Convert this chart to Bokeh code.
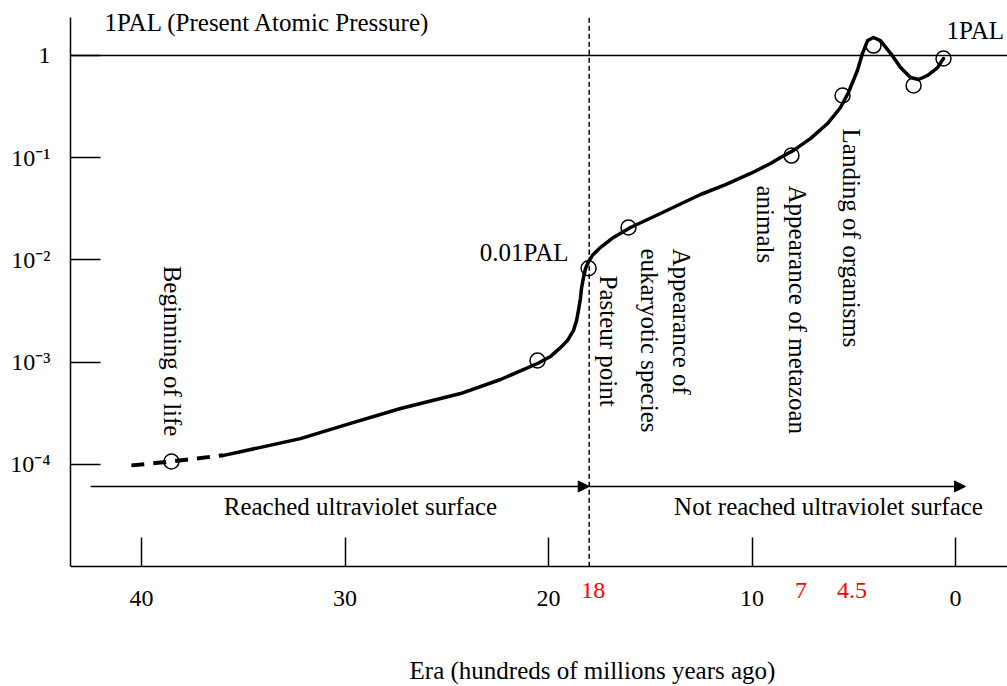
from math import pi
from bokeh.plotting import figure
from bokeh.models import Range1d, FixedTicker, Span, Label, Arrow, NormalHead
from bokeh.embed import file_html
from bokeh.resources import INLINE

FONT = "Liberation Serif"

# ---- data (era in hundreds of millions of years ago, O2 level in PAL) ----
early_x = [40.5, 38.5, 36.0]
early_y = [9.8e-5, 1.07e-4, 1.23e-4]

curve_x = [36.02, 34.15, 32.19, 29.73, 27.27, 24.32, 22.36, 20.54, 19.90, 19.41,
           19.07, 18.77, 18.62, 18.53, 18.43, 18.38, 18.28, 18.18, 18.03, 17.84,
           17.44, 16.81, 15.97, 14.50, 12.53, 11.30, 10.07, 9.09, 8.60, 7.96,
           7.13, 6.29, 5.65, 5.26, 4.82, 4.57, 4.32, 4.03, 3.69, 3.19,
           2.70, 2.21, 1.82, 1.38, 0.88, 0.59]
curve_y = [1.22e-4, 1.47e-4, 1.79e-4, 2.52e-4, 3.53e-4, 4.94e-4, 6.78e-4, 9.72e-4, 1.14e-3, 1.39e-3,
           1.63e-3, 2.05e-3, 2.56e-3, 3.21e-3, 4.20e-3, 5.26e-3, 6.75e-3, 8.26e-3, 9.66e-3, 0.0111,
           0.0133, 0.0166, 0.0208, 0.0285, 0.0437, 0.0547, 0.0702, 0.0879, 0.1005, 0.118,
           0.154, 0.216, 0.310, 0.435, 0.713, 1.05, 1.40, 1.50, 1.40, 1.05,
           0.763, 0.610, 0.582, 0.637, 0.763, 0.935]

marker_x = [38.53, 20.54, 18.03, 16.07, 8.06, 5.55, 4.03, 2.06, 0.59]
marker_y = [1.07e-4, 1.04e-3, 8.3e-3, 0.0208, 0.105, 0.406, 1.25, 0.509, 0.935]

x_ticks = [40, 30, 20, 10, 0]
y_ticks = [1e-4, 1e-3, 1e-2, 1e-1, 1]
y_tick_labels = {1e-4: "10\u207b\u2074", 1e-3: "10\u207b\u00b3", 1e-2: "10\u207b\u00b2",
                 1e-1: "10\u207b\u00b9", 1: "1"}
red_ticks = [18, 7, 4.5]
red_tick_labels = ["18", "7", "4.5"]
pasteur_era = 18
axis_min, axis_max = 1e-5, 2.35     # extent of the drawn y axis
uv_level = 6.1e-5                   # height of the UV arrows

p = figure(width=1007, height=686, x_range=Range1d(43.49, -2.555),
           y_range=Range1d(6.74e-7, 3.45),
           y_axis_type="log", output_backend="svg", toolbar_location=None,
           min_border_left=70, min_border_right=0, min_border_top=0, min_border_bottom=0)
p.outline_line_color = None
p.grid.visible = False
p.background_fill_color = "white"

# x axis (sits at the bottom of the drawn y axis)
xa = p.xaxis[0]
xa.fixed_location = axis_min
xa.ticker = FixedTicker(ticks=x_ticks)
xa.major_tick_in = 29
xa.major_tick_out = 0
xa.minor_tick_line_color = None
xa.axis_line_width = 1.5
xa.major_tick_line_width = 1.5
xa.axis_line_color = "black"
xa.major_tick_line_color = "black"
xa.major_label_text_font = FONT
xa.major_label_text_font_size = "24px"
xa.major_label_text_color = "black"
xa.major_label_standoff = 24

# y axis
ya = p.yaxis[0]
ya.bounds = (axis_min, axis_max)
ya.ticker = FixedTicker(ticks=y_ticks)
ya.major_label_overrides = y_tick_labels
ya.major_tick_in = 30
ya.major_tick_out = 0
ya.minor_tick_line_color = None
ya.axis_line_width = 1.5
ya.major_tick_line_width = 1.5
ya.axis_line_color = "black"
ya.major_tick_line_color = "black"
ya.major_label_text_font = FONT
ya.major_label_text_font_size = "24px"
ya.major_label_text_color = "black"
ya.major_label_standoff = 20

# reference lines
p.add_layout(Span(location=1, dimension="width", line_color="black", line_width=1.5))
p.segment(x0=[pasteur_era], y0=[axis_min], x1=[pasteur_era], y1=[axis_max],
          line_color="black", line_width=1.5, line_dash="5 3")

# curve
p.line(early_x, early_y, line_color="black", line_width=4, line_dash="13 9")
p.line(curve_x, curve_y, line_color="black", line_width=3.5, line_join="round", line_cap="round")
p.scatter(marker_x, marker_y, marker="circle", size=15, fill_alpha=0,
          line_color="black", line_width=1.5)

# arrows
p.add_layout(Arrow(end=NormalHead(size=11, fill_color="black", line_color="black"),
                   x_start=42.5, y_start=uv_level, x_end=pasteur_era, y_end=uv_level,
                   line_color="black", line_width=1.5))
p.add_layout(Arrow(end=NormalHead(size=11, fill_color="black", line_color="black"),
                   x_start=pasteur_era, y_start=uv_level, x_end=-0.49, y_end=uv_level,
                   line_color="black", line_width=1.5))


def lab(text, x, y, align="left", baseline="middle", angle=0.0, color="black", size="25px", x_offset=0):
    p.add_layout(Label(x=x, y=y, text=text, text_font=FONT, text_font_size=size,
                       text_color=color, text_align=align, text_baseline=baseline,
                       angle=angle, x_offset=x_offset, text_line_height=1.22))


lab("1PAL (Present Atomic Pressure)", 41.82, 2.1)
lab("1PAL", 0.44, 1.76)
lab("0.01PAL", 19.02, 0.0118, align="right")
lab("Reached ultraviolet surface", 29.24, 3.88e-5, align="center")
lab("Not reached ultraviolet surface", 6.24, 3.88e-5, align="center")

lab("Beginning of life", 38.48, 8.8e-3, angle=-pi / 2)
lab("Pasteur point", 17.05, 7.05e-3, angle=-pi / 2)
lab("Appearance of\neukaryotic species", 14.25, 0.01295, angle=-pi / 2)
lab("Appearance of metazoan\nanimals", 8.55, 0.0535, angle=-pi / 2)
lab("Landing of organisms", 5.11, 0.193, angle=-pi / 2)

# red era marks under the axis
offsets = [4, -12, -12]
for v, t, o in zip(red_ticks, red_tick_labels, offsets):
    lab(t, v, 5.86e-6, align="center", color="red", size="24px", x_offset=o)

# x axis title
lab("Era (hundreds of millions years ago)", 17.84, 9.67e-7, align="center")

open("out.html", "w").write(file_html(p, INLINE))
